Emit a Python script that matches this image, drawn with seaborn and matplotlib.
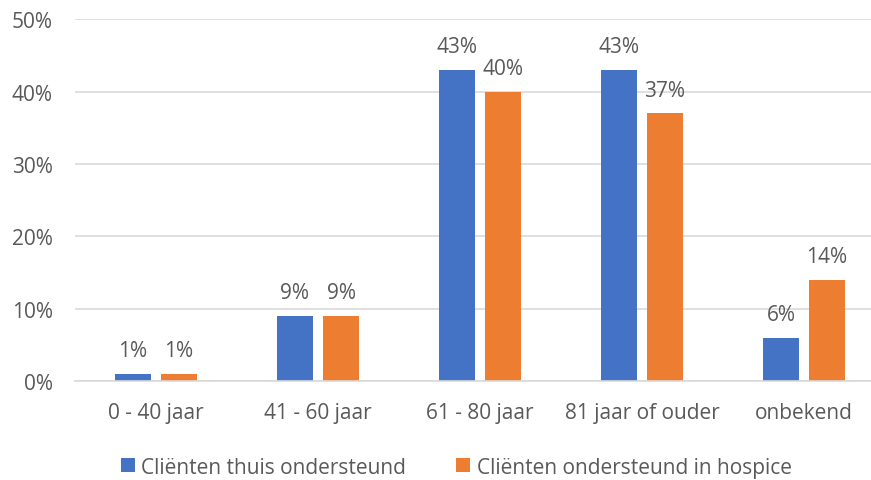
import pandas as pd
import matplotlib.pyplot as plt
import seaborn as sns

categories = ['0 - 40 jaar', '41 - 60 jaar', '61 - 80 jaar', '81 jaar of ouder', 'onbekend']
thuis = [1, 9, 43, 43, 6]
hospice = [1, 9, 40, 37, 14]
series_names = ['Cliënten thuis ondersteund', 'Cliënten ondersteund in hospice']
y_ticks = [0, 10, 20, 30, 40, 50]

df = pd.DataFrame({
    'categorie': categories * 2,
    'waarde': thuis + hospice,
    'reeks': [series_names[0]] * len(categories) + [series_names[1]] * len(categories),
})

sns.set_theme(style="white")
plt.rcParams['font.family'] = ['Open Sans', 'DejaVu Sans']
text_color = '#595959'
fs = 15

fig = plt.figure(figsize=(8.71, 4.81), dpi=100)
# plot area runs a little past the right edge, as in the reference crop
ax = fig.add_axes([75 / 871, 0.206, 810 / 871, 0.752])

palette = {series_names[0]: '#4472C4', series_names[1]: '#ED7D31'}
sns.barplot(data=df, x='categorie', y='waarde', hue='reeks', palette=palette,
            width=0.568, gap=0.217, ax=ax, saturation=1, linewidth=0,
            edgecolor='none', legend=True)

for c in ax.containers:
    ax.bar_label(c, fmt='%d%%', padding=9, fontsize=fs, color=text_color)

ax.set_ylim(0, 50)
ax.set_yticks(y_ticks)
ax.set_yticklabels([f'{t}%' for t in y_ticks])
ax.set_xlim(-0.5, len(categories) - 0.5)
ax.set_xlabel('')
ax.set_ylabel('')
ax.grid(True, axis='y', color='#d9d9d9', linewidth=1.2)
ax.set_axisbelow(True)
for s in ['top', 'right', 'left']:
    ax.spines[s].set_visible(False)
ax.spines['bottom'].set_color('#d9d9d9')
ax.spines['bottom'].set_linewidth(1.2)
ax.tick_params(axis='both', length=0, labelsize=fs, colors=text_color)
ax.tick_params(axis='x', pad=15)
ax.tick_params(axis='y', pad=16)

handles, labels = ax.get_legend_handles_labels()
ax.get_legend().remove()
fig.legend(handles, labels, loc='center', bbox_to_anchor=(0.524, 0.027),
           ncol=2, frameon=False, fontsize=fs, labelcolor=text_color,
           handlelength=0.67, handleheight=0.67, handletextpad=0.3,
           columnspacing=2.4)

plt.savefig('out.png', dpi=100)
